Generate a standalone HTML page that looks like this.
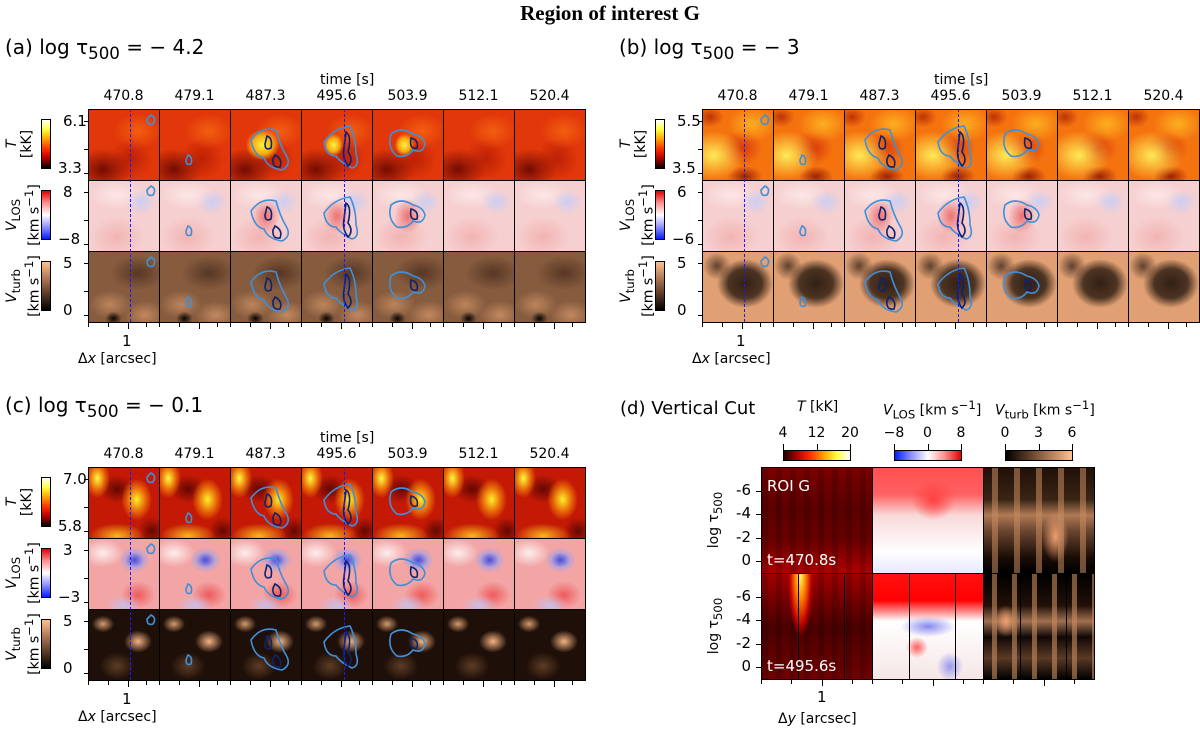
<!DOCTYPE html>
<html><head><meta charset="utf-8">
<style>
body{margin:0;background:#fff;}
#root{position:relative;width:1200px;height:732px;overflow:hidden;background:#fff;font-family:"DejaVu Sans","Liberation Sans",sans-serif;color:#000;}
.abs{position:absolute;}
.t{position:absolute;white-space:nowrap;font-size:14px;line-height:1;}
.cell{position:absolute;box-sizing:border-box;border:1px solid #000;overflow:hidden;}
.tick{position:absolute;background:#000;}
.cb{position:absolute;box-sizing:border-box;border:1px solid #000;}
.rot{position:absolute;transform:rotate(-90deg);transform-origin:center;white-space:nowrap;font-size:14px;text-align:center;line-height:1.1;}
</style></head>
<body>
<div id="root">
<div class="t" style="left:505px;top:3px;width:210px;text-align:center;font-family:'Liberation Serif',serif;font-weight:bold;font-size:21px;">Region of interest G</div>
</div>
<script>
// ---- data ----
const timeLabels = ["470.8","479.1","487.3","495.6","503.9","512.1","520.4"];
const panelLabels = ["(a) log τ<sub>500</sub> = − 4.2","(b) log τ<sub>500</sub> = − 3","(c) log τ<sub>500</sub> = − 0.1"];
const tempTicks = [["6.1","3.3"],["5.5","3.5"],["7.0","5.8"]];
const vlosTicks = [["8","−8"],["6","−6"],["3","−3"]];
const turbTicks = [["5","0"],["5","0"],["5","0"]];
const cutTempTicks = ["4","12","20"];
const cutVlosTicks = ["−8","0","8"];
const cutTurbTicks = ["0","3","6"];
const tauTicks = ["-6","-4","-2","0"];

const root = document.getElementById('root');
function mk(tag, cls, style, html){const e=document.createElement(tag); if(cls)e.className=cls; if(style)e.style.cssText=style; if(html!==undefined)e.innerHTML=html; root.appendChild(e); return e;}

const CW=71, RH=71;
const panels=[{x:88,y:109},{x:702,y:109},{x:88,y:467}];

function bgT(p,c){
  if(p===0){
    let s="radial-gradient(ellipse 40% 30% at 20% 85%, rgba(90,0,0,.8), transparent),radial-gradient(ellipse 35% 25% at 70% 30%, rgba(255,120,20,.6), transparent),radial-gradient(ellipse 30% 30% at 60% 70%, rgba(150,10,0,.5), transparent)";
    if(c>=2&&c<=4) s="radial-gradient(ellipse "+(c===2?24:14)+"% "+(c===2?22:16)+"% at 45% 50%, rgba(255,245,60,1), rgba(255,200,20,.8) 60%, transparent),"+s;
    return s+",rgb(225,55,10)";
  }
  if(p===1){
    return "radial-gradient(ellipse 45% 35% at "+(15+c*3)+"% 65%, rgba(255,240,90,.95), transparent),radial-gradient(ellipse 35% 25% at 70% 20%, rgba(255,200,40,.7), transparent),radial-gradient(ellipse 30% 25% at 55% 55%, rgba(200,30,5,.7), transparent),radial-gradient(ellipse 25% 15% at 60% 95%, rgba(120,0,0,.7), transparent),radial-gradient(ellipse 20% 15% at 10% 10%, rgba(150,10,0,.6), transparent),rgb(245,115,15)";
  }
  return "radial-gradient(ellipse 18% 28% at 12% 15%, rgba(255,250,60,1), rgba(255,150,10,.6) 60%, transparent),radial-gradient(ellipse 22% 30% at 68% 45%, rgba(255,240,40,1), rgba(255,150,10,.6) 60%, transparent),radial-gradient(ellipse 40% 18% at 40% 97%, rgba(255,200,30,.9), transparent),radial-gradient(ellipse 25% 20% at 40% 30%, rgba(60,0,0,.7), transparent),radial-gradient(ellipse 20% 20% at 90% 90%, rgba(60,0,0,.7), transparent),rgb(195,25,5)";
}
function bgV(p,c){
  if(p<2){
    let s="radial-gradient(ellipse 22% 18% at 75% 30%, rgba(200,205,245,.9), transparent),radial-gradient(ellipse 40% 20% at 40% 20%, rgba(255,240,240,.7), transparent),radial-gradient(ellipse 40% 30% at 40% 80%, rgba(240,160,160,.6), transparent)";
    if(c>=2&&c<=4) s="radial-gradient(ellipse 20% 25% at 50% 50%, rgba(235,90,90,.8), transparent),"+s;
    return s+",rgb(246,208,208)";
  }
  return "radial-gradient(ellipse 22% 18% at 65% 30%, rgba(60,70,225,.95), rgba(150,160,240,.6) 60%, transparent),radial-gradient(ellipse 30% 20% at 20% 20%, rgba(255,255,255,.8), transparent),radial-gradient(ellipse 25% 15% at 50% 95%, rgba(190,195,245,.8), transparent),radial-gradient(ellipse 25% 20% at 70% 80%, rgba(235,60,60,.7), transparent),rgb(243,165,165)";
}
function bgU(p,c){
  if(p===0) return "radial-gradient(ellipse 12% 10% at 35% 95%, rgba(0,0,0,.95), transparent),radial-gradient(ellipse 40% 25% at 70% 30%, rgba(75,45,30,.8), transparent),radial-gradient(ellipse 30% 20% at 30% 75%, rgba(210,150,105,.7), transparent),radial-gradient(ellipse 30% 20% at 80% 90%, rgba(220,155,110,.7), transparent),rgb(135,92,62)";
  if(p===1) return "radial-gradient(ellipse 40% 35% at 60% 45%, rgba(40,25,15,.95), rgba(40,25,15,.8) 60%, transparent),radial-gradient(ellipse 20% 20% at 20% 20%, rgba(40,25,15,.7), transparent),rgb(225,160,115)";
  return "radial-gradient(ellipse 20% 16% at 70% 45%, rgba(245,180,130,1), transparent),radial-gradient(ellipse 16% 12% at 20% 20%, rgba(230,170,120,.9), transparent),radial-gradient(ellipse 25% 20% at 40% 80%, rgba(120,80,50,.7), transparent),rgb(30,15,8)";
}
const contourShapes = [
  [["M62 5 q6 3 2 9 q-6 2 -6 -5 z"]],
  [["M28 45 q5 2 3 9 q-5 2 -5 -4 z"]],
  [["M20 30 q10 -14 25 -10 q4 15 10 25 q6 10 -4 15 q-14 -2 -18 -12 q-10 -2 -13 -18 z","M36 26 q6 2 4 12 q-6 3 -6 -4 z","M44 45 q8 4 5 12 q-8 1 -7 -8 z"]],
  [["M22 32 q10 -14 26 -16 q6 12 6 28 q4 12 -4 14 q-12 -6 -16 -12 q-10 0 -12 -14 z","M44 22 q6 4 2 20 q6 8 0 14 q-6 -8 -4 -18 z"]],
  [["M18 24 q10 -8 22 0 q10 2 12 10 q-2 10 -12 6 q-6 8 -16 6 q-10 -8 -6 -22 z","M38 28 q8 2 6 10 q-8 2 -6 -10 z"]]
];
function contours(parent,c){
  if(!contourShapes[c])return;
  const svgNS="http://www.w3.org/2000/svg";
  const svg=document.createElementNS(svgNS,"svg");
  svg.setAttribute("width","71");svg.setAttribute("height","71");
  svg.style.cssText="position:absolute;left:0;top:0;";
  
  
  contourShapes[c][0].forEach((d,i)=>{
    const pth=document.createElementNS(svgNS,"path");
    pth.setAttribute("d",d);pth.setAttribute("fill","none");
    pth.setAttribute("stroke",i===0?"#3f8fd9":"#0c2470");pth.setAttribute("stroke-width","1.6");
    svg.appendChild(pth);
  });
  parent.appendChild(svg);
}

panels.forEach((P,p)=>{
  const lab=mk('div','t','left:'+(P.x-83)+'px;top:'+(P.y-72)+'px;font-size:20px;',panelLabels[p]);
  
  
  const tt=mk('div','t','left:'+(P.x+232)+'px;top:'+(P.y-36)+'px;font-size:14px;','time [s]');
  
  
  timeLabels.forEach((tl,c)=>{
    const e=mk('div','t','left:'+(P.x+c*CW)+'px;width:'+CW+'px;text-align:center;top:'+(P.y-20)+'px;',tl);
    
    
  });
  const rowsBg=[bgT,bgV,bgU];
  const rowTicks=[tempTicks[p],vlosTicks[p],turbTicks[p]];
  const cbGrad=["linear-gradient(to top,#000,#b00000,#ff3000,#ffa000,#ffff40,#fff)","linear-gradient(to top,#0020ff,#9090ff,#fff,#ff9090,#e00000)","linear-gradient(to top,#000,#5a3a26,#b07a55,#ffc090)"];
  const rowNames=["temperature","vlos","vturb"];
  const ytitles=['<i>T</i><br>[kK]','<i>V</i><sub>LOS</sub><br>[km s<sup>−1</sup>]','<i>V</i><sub>turb</sub><br>[km s<sup>−1</sup>]'];
  for(let r=0;r<3;r++){
    const y=P.y+r*RH;
    for(let c=0;c<7;c++){
      const cell=mk('div','cell','left:'+(P.x+c*CW)+'px;top:'+y+'px;width:'+(CW+1)+'px;height:'+(RH+1)+'px;background:'+rowsBg[r](p,c)+';');
      
      
      contours(cell,c);
    }
    const cb=mk('div','cb','left:'+(P.x-47)+'px;top:'+(y+10)+'px;width:10px;height:50px;background:'+cbGrad[r]+';');
    
    
    const t1=mk('div','t','left:'+(P.x-25)+'px;top:'+(y+5)+'px;font-size:15px;',rowTicks[r][0]);
    
    
    const t2=mk('div','t','left:'+(P.x-(rowTicks[r][1].length>1?30:25))+'px;top:'+(y+52)+'px;font-size:15px;',rowTicks[r][1]);
    
    
    [12,40,64].forEach(o=>{mk('div','tick','left:'+(P.x-4)+'px;top:'+(y+o)+'px;width:4px;height:1px;');});
    const yt=mk('div','rot','left:'+(P.x-116)+'px;top:'+(y+18)+'px;width:100px;height:34px;',ytitles[r]);
    
    
  }
  [[0,42],[3,43]].forEach(([c,o])=>{
    const l=mk('div','abs','left:'+(P.x+c*CW+o)+'px;top:'+P.y+'px;width:0;height:'+(3*RH)+'px;border-left:1.5px dashed #1a1aff;');
    
    
  });
  for(let c=0;c<7;c++){[0,20,40,58].forEach(o=>{mk('div','tick','left:'+(P.x+c*CW+o)+'px;top:'+(P.y+3*RH+1)+'px;width:1px;height:'+(o===40?6:4)+'px;');});}
  const one=mk('div','t','left:'+(P.x+34)+'px;top:'+(P.y+3*RH+12)+'px;font-size:15px;','1');
  
  
  const xt=mk('div','t','left:'+(P.x-10)+'px;top:'+(P.y+3*RH+30)+'px;font-size:14px;','Δ<i>x</i> [arcsec]');
  
  
});

// ---- panel (d) ----
const D={x:761,y:467,w:111,h:106};
const dl=mk('div','t','left:620px;top:400px;font-size:18px;','(d) Vertical Cut');


const cbTitles=['<i>T</i> [kK]','<i>V</i><sub>LOS</sub> [km s<sup>−1</sup>]','<i>V</i><sub>turb</sub> [km s<sup>−1</sup>]'];
const cbTickSets=[cutTempTicks,cutVlosTicks,cutTurbTicks];
const dcb=["linear-gradient(to right,#200000,#b00000,#ff3000,#ffa000,#ffff40,#fff)","linear-gradient(to right,#0020ff,#9090ff,#fff,#ff9090,#e00000)","linear-gradient(to right,#000,#5a3a26,#b07a55,#ffc090)"];
const cbX=[783,894,1005];
const cbTitleX=[797,883,995];
for(let k=0;k<3;k++){
  const tt=mk('div','t','left:'+cbTitleX[k]+'px;top:400px;font-size:14px;',cbTitles[k]);
  
  
  const cb=mk('div','cb','left:'+cbX[k]+'px;top:450px;width:68px;height:11px;background:'+dcb[k]+';');
  
  
  cbTickSets[k].forEach((v,i)=>{
    const x=cbX[k]+i*33.5;
    mk('div','tick','left:'+x+'px;top:444px;width:1px;height:7px;');
    const e=mk('div','t','left:'+(x-20)+'px;width:40px;text-align:center;top:426px;font-size:14px;',v);
    
    
  });
}
const dBg=[
 ["repeating-linear-gradient(to right,rgba(0,0,0,.15) 0 6px,transparent 6px 14px),linear-gradient(to bottom,#7a0000,#5a0000 40%,#6a0000 70%,#b00000)",
  "radial-gradient(ellipse 20% 20% at 55% 30%, #ff4040, transparent),linear-gradient(to bottom,#ff5050 0,#ff6060 25%,#f8d8d8 45%,#fff 80%,#e8e8ff)",
  "repeating-linear-gradient(to right,transparent 0 8px,rgba(200,140,95,.55) 8px 14px,transparent 14px 22px),radial-gradient(ellipse 12% 25% at 65% 65%, #f0a070, transparent),linear-gradient(to bottom,#201008,#3a2515 30%,#b07a55 45%,#6a4530 60%,#1a0c05 85%,#000)"],
 ["radial-gradient(ellipse 12% 60% at 35% 0%, #ffff60, #ff8000 40%, #c00000 80%, transparent),repeating-linear-gradient(to right,rgba(0,0,0,.15) 0 6px,transparent 6px 14px),linear-gradient(to bottom,#a00000,#4a0000 50%,#700000)",
  "radial-gradient(ellipse 25% 10% at 50% 50%, #8888ee, transparent),radial-gradient(ellipse 12% 14% at 70% 88%, #9999ee, transparent),radial-gradient(ellipse 10% 10% at 40% 70%, #ff6060, transparent),linear-gradient(to bottom,#ff1010,#ff0000 25%,#fff 45%,#f6e6e6)",
  "repeating-linear-gradient(to right,transparent 0 8px,rgba(200,140,95,.6) 8px 13px,transparent 13px 20px),radial-gradient(ellipse 10% 15% at 20% 45%, #f0a070, transparent),linear-gradient(to bottom,#000,#201008 30%,#a07050 45%,#100805 60%,#5a3a26 80%,#000)"]
];
for(let r=0;r<2;r++){
  for(let k=0;k<3;k++){
    const cell=mk('div','cell','left:'+(D.x+k*D.w)+'px;top:'+(D.y+r*D.h)+'px;width:'+(D.w+1)+'px;height:'+(D.h+1)+'px;background:'+dBg[r][k]+';');
    
    
    if(r===1){[37,83].forEach(o=>{mk('div','abs','left:'+(D.x+k*D.w+o)+'px;top:'+(D.y+D.h)+'px;width:1px;height:'+D.h+'px;background:#000;');});}
  }
  tauTicks.forEach((v,i)=>{
    const y=D.y+r*D.h+24+i*23.3;
    mk('div','tick','left:'+(D.x-5)+'px;top:'+y+'px;width:5px;height:1px;');
    const e=mk('div','t','left:'+(D.x-42)+'px;width:32px;text-align:right;top:'+(y-8)+'px;font-size:15px;',v);
    
    
  });
  const yt=mk('div','rot','left:'+(D.x-95)+'px;top:'+(D.y+r*D.h+44)+'px;width:100px;height:18px;','log τ<sub>500</sub>');
  
  
  const lt=mk('div','t','left:'+(D.x+6)+'px;top:'+(D.y+r*D.h+86)+'px;color:#fff;font-size:15px;',r?'t=495.6s':'t=470.8s');
  
  
}
const roi=mk('div','t','left:'+(D.x+6)+'px;top:'+(D.y+12)+'px;color:#fff;font-size:15px;','ROI G');


for(let k=0;k<3;k++){[0,30,61,91].forEach(o=>{mk('div','tick','left:'+(D.x+k*D.w+o)+'px;top:'+(D.y+2*D.h+1)+'px;width:1px;height:'+(o===61?6:4)+'px;');});}
const d1=mk('div','t','left:817px;top:690px;font-size:15px;','1');


const dx=mk('div','t','left:778px;top:712px;font-size:14px;','Δ<i>y</i> [arcsec]');


</script>
</body></html>
